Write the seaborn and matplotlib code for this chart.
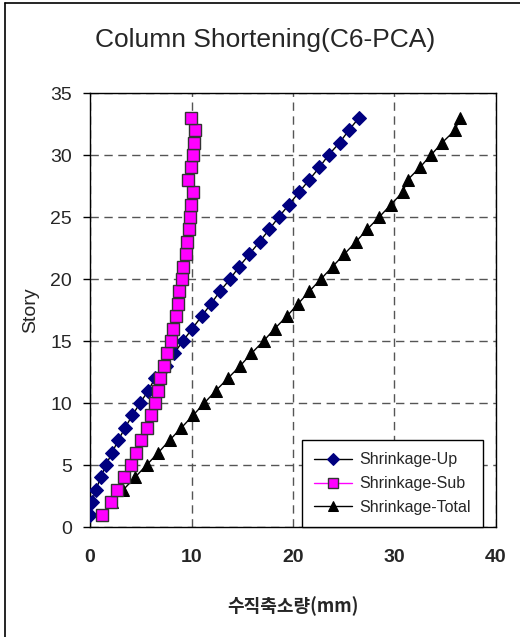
import matplotlib
matplotlib.use("Agg")
import matplotlib.pyplot as plt
import seaborn as sns
import pandas as pd
from matplotlib.lines import Line2D

stories = list(range(1, 34))
up = [0.0, 0.16, 0.59, 1.05, 1.58, 2.17, 2.79, 3.45, 4.17, 4.93, 5.75, 6.4,
      7.5, 8.3, 9.15, 10.08, 11.0, 11.92, 12.8, 13.8, 14.7, 15.7, 16.7,
      17.66, 18.6, 19.6, 20.6, 21.6, 22.6, 23.5, 24.6, 25.5, 26.5]
sub = [1.15, 2.04, 2.7, 3.38, 4.0, 4.53, 5.02, 5.58, 5.98, 6.4, 6.67, 6.9,
       7.29, 7.6, 7.95, 8.2, 8.47, 8.64, 8.8, 9.1, 9.2, 9.42, 9.52, 9.75,
       9.85, 9.95, 10.1, 9.62, 9.95, 10.1, 10.25, 10.34, 9.95]
total = [1.15, 2.13, 3.28, 4.43, 5.58, 6.73, 7.85, 9.0, 10.15, 11.27, 12.4,
         13.6, 14.8, 15.9, 17.1, 18.2, 19.4, 20.5, 21.6, 22.76, 23.9, 25.05,
         26.2, 27.3, 28.5, 29.65, 30.8, 31.3, 32.5, 33.6, 34.7, 35.96, 36.45]
series_names = ["Shrinkage-Up", "Shrinkage-Sub", "Shrinkage-Total"]
title = "Column Shortening(C6-PCA)"
xlabel = "수직축소량(mm)"
ylabel = "Story"
xticks = [0, 10, 20, 30, 40]
yticks = [0, 5, 10, 15, 20, 25, 30, 35]

sns.set_theme(style="white")
plt.rcParams['font.family'] = ['Liberation Sans', 'Noto Sans CJK KR', 'DejaVu Sans']

fig = plt.figure(figsize=(5.2, 6.37), dpi=100)
ax = fig.add_axes([90/520, 1-527/637, 406/520, 434/637])

df_up = pd.DataFrame({"x": up, "y": stories})
df_sub = pd.DataFrame({"x": sub, "y": stories})
df_tot = pd.DataFrame({"x": total, "y": stories})

common = dict(x="x", y="y", sort=False, estimator=None, ax=ax, lw=1.0)
sns.lineplot(data=df_up, color="black",
             marker="D", markersize=6.8, markerfacecolor="#000080",
             markeredgecolor="#000080", label=series_names[0], zorder=3, **common)
sns.lineplot(data=df_sub, color="#ff00ff",
             marker="s", markersize=8, markerfacecolor="#ff00ff",
             markeredgecolor="#333333", markeredgewidth=1.0,
             label=series_names[1], zorder=4, **common)
sns.lineplot(data=df_tot, color="black",
             marker="^", markersize=8.5, markerfacecolor="black",
             markeredgecolor="black", label=series_names[2], zorder=3, **common)

ax.set_xlim(0, 40)
ax.set_ylim(0, 35)
ax.set_xticks(xticks)
ax.set_yticks(yticks)
ax.grid(True, color="#555555", linestyle=(0, (6, 4)), linewidth=1.0)
for s in ax.spines.values():
    s.set_color("black")
    s.set_linewidth(1.0)
ax.tick_params(axis="y", which="major", direction="out", length=5, width=1,
               color="black", labelsize=14, pad=8, left=True)
ax.tick_params(axis="x", which="major", length=0, labelsize=14, pad=16)
for t in ax.get_xticklabels():
    t.set_fontweight("bold")
ax.set_xlabel(xlabel, fontsize=13, fontweight="bold", labelpad=22,
              family=['Noto Sans CJK KR', 'DejaVu Sans'])
ax.set_ylabel(ylabel, fontsize=14, labelpad=8)

leg = ax.legend(loc="lower right", bbox_to_anchor=(393/406, 0.0), borderaxespad=0,
                frameon=True, fancybox=False, framealpha=1, edgecolor="black",
                fontsize=11.5, handlelength=2.4, borderpad=0.75, labelspacing=0.55,
                handletextpad=0.45, markerscale=0.85)
leg.get_frame().set_linewidth(1.0)
leg.set_zorder(10)

fig.text(265/520, 1-40/637, title, ha="center", va="center", fontsize=19)

fig.add_artist(Line2D([5/520, 5/520], [0, 1-3/637], color="black", lw=1.2))
fig.add_artist(Line2D([5/520, 1], [1-3/637, 1-3/637], color="black", lw=1.2))

fig.savefig("out.png", dpi=100)
